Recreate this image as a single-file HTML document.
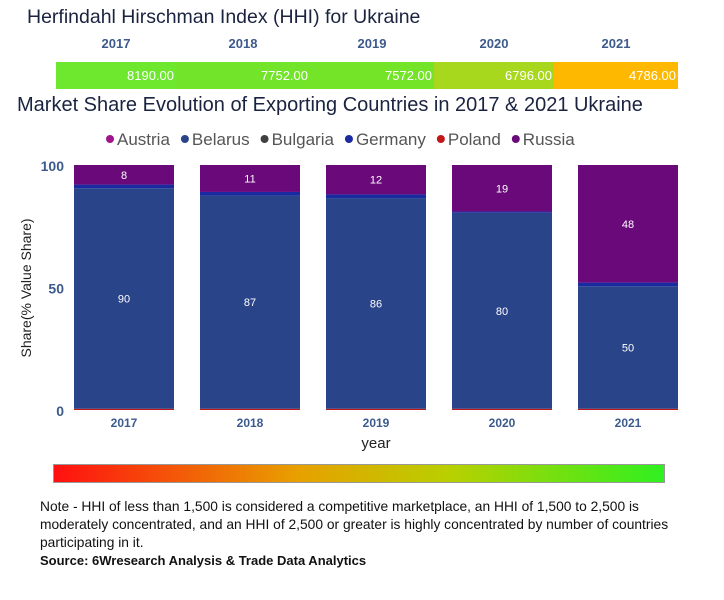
<!DOCTYPE html>
<html><head><meta charset="utf-8"><style>
body{margin:0;width:724px;height:600px;background:#fff;font-family:"Liberation Sans",sans-serif;position:relative;overflow:hidden}
.abs{position:absolute}
</style></head><body>
<div class="abs" style="left:27px;top:6px;font-size:19.5px;color:#1a2340">Herfindahl Hirschman Index (HHI) for Ukraine</div>
<div id="hhi"></div>
<div class="abs" style="left:17px;top:94px;font-size:20px;color:#1a2340">Market Share Evolution of Exporting Countries in 2017 &amp; 2021 Ukraine</div>
<svg id="chart" class="abs" style="left:0;top:0" width="724" height="460"></svg>
<div class="abs" style="left:53px;top:464px;width:612px;height:19px;background:linear-gradient(to right,#ff1010,#e8a000 40%,#b8d000 65%,#30f020);border:1px solid #999;box-sizing:border-box"></div>
<div class="abs" style="left:40px;top:498px;white-space:nowrap;font-size:13.8px;line-height:18px;color:#111">Note - HHI of less than 1,500 is considered a competitive marketplace, an HHI of 1,500 to 2,500 is<br>moderately concentrated, and an HHI of 2,500 or greater is highly concentrated by number of countries<br>participating in it.<br><b style="font-size:13px">Source: 6Wresearch Analysis &amp; Trade Data Analytics</b></div>
<script>
const years=["2017","2018","2019","2020","2021"];
const hhiValues=[8190.00,7752.00,7572.00,6796.00,4786.00];
const hhiColors=["#6ee82e","#72e52a","#74e428","#a8d81e","#ffb800"];
const belarus=[90,87,86,80,50];
const germany=[1.5,1.5,1.5,0.5,1.5];
const russia=[8,11,12,19,48];
const other=[0.5,0.5,0.5,0.5,0.5];
const yTicks=[0,50,100];

const hhi=document.getElementById('hhi');
const segX=[56,176,310,434,554,678];
years.forEach((y,i)=>{
  const l=document.createElement('div');l.className='abs';
  
  
  l.style.cssText=`left:${segX[i]}px;width:${segX[i+1]-segX[i]}px;top:36px;text-align:center;font-weight:bold;font-size:13px;color:#3c5a8c`;
  l.textContent=y;hhi.appendChild(l);
  const s=document.createElement('div');s.className='abs';
  
  
  s.style.cssText=`left:${segX[i]}px;width:${segX[i+1]-segX[i]}px;top:62px;height:27px;background:${hhiColors[i]};color:#fff;font-size:13px;text-align:right;line-height:27px;box-sizing:border-box;padding-right:2px`;
  s.textContent=hhiValues[i].toFixed(2);hhi.appendChild(s);
});

const svg=document.getElementById('chart');const NS='http://www.w3.org/2000/svg';
function el(t,a,txt){const e=document.createElementNS(NS,t);for(const k in a)e.setAttribute(k,a[k]);if(txt!==undefined)e.textContent=txt;svg.appendChild(e);return e;}
const y0=410,y1=165;const yS=v=>y0-(v/100)*(y0-y1);
const xS=i=>74+i*126;const bw=100;
const legend=[["Austria","#a0148c"],["Belarus","#2a4489"],["Bulgaria","#404040"],["Germany","#1a2aa0"],["Poland","#c01818"],["Russia","#6a0a7a"]];
let lx=106;
legend.forEach(([n,c])=>{
  const d=el('circle',{cx:lx+4,cy:139,r:4,fill:c});
  
  
  const t=el('text',{x:lx+11,y:145,'font-size':17,fill:'#555'},n);
  
  
  lx+=11+t.getComputedTextLength()+11;
});
yTicks.forEach(v=>{const t=el('text',{x:64,y:yS(v)+6,'text-anchor':'end','font-size':14,'font-weight':'bold',fill:'#3c5a8c'},v);
  
  });
const yt=el('text',{x:0,y:0,'font-size':14,fill:'#222',transform:'translate(31,288) rotate(-90)','text-anchor':'middle'},'Share(% Value Share)');


const xt=el('text',{x:376,y:448,'font-size':15,fill:'#222','text-anchor':'middle'},'year');


years.forEach((yr,i)=>{
  const x=xS(i);let base=0;
  const segs=[[other[i],'#c01818','other'],[belarus[i],'#2a4489','belarus'],[germany[i],'#1a2aa0','germany'],[russia[i],'#6a0a7a','russia']];
  segs.forEach(([v,c,n])=>{
    const r=el('rect',{x:x,y:yS(base+v),width:bw,height:yS(base)-yS(base+v),fill:c});
    
    
    if(n==='belarus'||n==='russia'){
      const t=el('text',{x:x+bw/2,y:(yS(base)+yS(base+v))/2+4,'text-anchor':'middle','font-size':11,fill:'#fff'},v);
      
      
    }
    base+=v;
  });
  const t=el('text',{x:x+bw/2,y:427,'text-anchor':'middle','font-size':12,'font-weight':'bold',fill:'#3c5a8c'},yr);
  
  
});
</script>
</body></html>
